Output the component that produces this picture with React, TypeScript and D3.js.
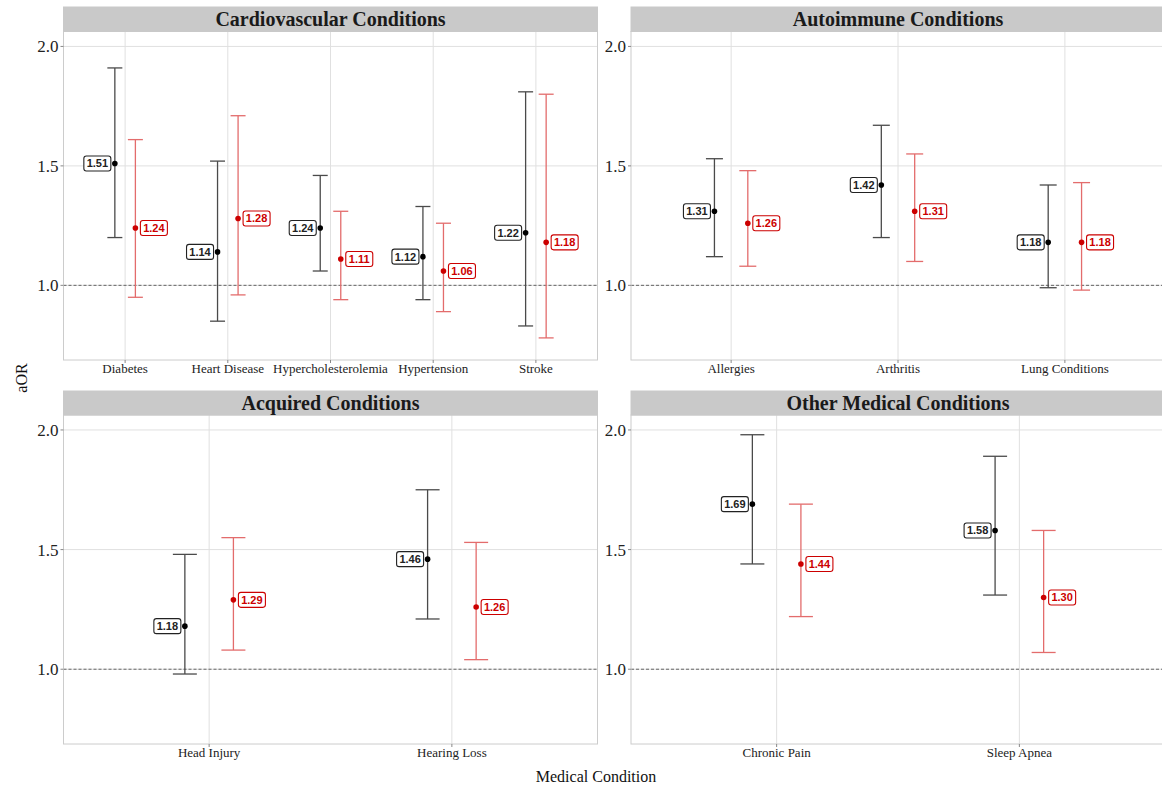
import React from "react";
import * as d3 from "d3";

const panelTitles = [
  "Cardiovascular Conditions",
  "Autoimmune Conditions",
  "Acquired Conditions",
  "Other Medical Conditions",
];

const panelCategories = [
  ["Diabetes", "Heart Disease", "Hypercholesterolemia", "Hypertension", "Stroke"],
  ["Allergies", "Arthritis", "Lung Conditions"],
  ["Head Injury", "Hearing Loss"],
  ["Chronic Pain", "Sleep Apnea"],
];

// black series (first model)
const blackEst = [[1.51, 1.14, 1.24, 1.12, 1.22], [1.31, 1.42, 1.18], [1.18, 1.46], [1.69, 1.58]];
const blackLow = [[1.2, 0.85, 1.06, 0.94, 0.83], [1.12, 1.2, 0.99], [0.98, 1.21], [1.44, 1.31]];
const blackHigh = [[1.91, 1.52, 1.46, 1.33, 1.81], [1.53, 1.67, 1.42], [1.48, 1.75], [1.98, 1.89]];

// red series (adjusted model)
const redEst = [[1.24, 1.28, 1.11, 1.06, 1.18], [1.26, 1.31, 1.18], [1.29, 1.26], [1.44, 1.3]];
const redLow = [[0.95, 0.96, 0.94, 0.89, 0.78], [1.08, 1.1, 0.98], [1.08, 1.04], [1.22, 1.07]];
const redHigh = [[1.61, 1.71, 1.31, 1.26, 1.8], [1.48, 1.55, 1.43], [1.55, 1.53], [1.69, 1.58]];

const yTicks = [1.0, 1.5, 2.0];
const yDomain = [0.6875, 2.0625];

const W = 1162;
const H = 792;
const serif = "'Liberation Serif', 'Times New Roman', serif";
const sans = "'Liberation Sans', Arial, sans-serif";

const panelBoxes = [
  { x0: 63.5, x1: 597.5, top: 7, stripH: 24.5, bottom: 360, cap: 15 },
  { x0: 631, x1: 1165, top: 7, stripH: 24.5, bottom: 360, cap: 17 },
  { x0: 63.5, x1: 597.5, top: 391, stripH: 24, bottom: 744, cap: 24 },
  { x0: 631, x1: 1165, top: 391, stripH: 24, bottom: 744, cap: 24 },
];

const dodgeFrac = 0.1;

function Label({ x, y, text, color, side }) {
  const w = 27;
  const h = 15;
  const bx = side === "left" ? x - 4 - w : x + 5;
  return (
    <g>
      <rect x={bx} y={y - h / 2} width={w} height={h} rx={2.5} fill="white" stroke={color} strokeWidth={1.1} />
      <text
        x={bx + w / 2}
        y={y + 4}
        textAnchor="middle"
        fontFamily={sans}
        fontWeight="bold"
        fontSize={11}
        fill={color}
      >
        {text}
      </text>
    </g>
  );
}

function Panel({ idx }) {
  const box = panelBoxes[idx];
  const cats = panelCategories[idx];
  const plotTop = box.top + box.stripH;
  const x = d3.scalePoint().domain(cats).range([box.x0, box.x1]).padding(0.6);
  const y = d3.scaleLinear().domain(yDomain).range([box.bottom, plotTop]);
  const step = x.step();
  const dodge = step * dodgeFrac;

  const series = [
    { est: blackEst[idx], lo: blackLow[idx], hi: blackHigh[idx], off: -dodge, bar: "#4a4a4a", pt: "#000", lab: "#222", side: "left" },
    { est: redEst[idx], lo: redLow[idx], hi: redHigh[idx], off: dodge, bar: "#e36c6c", pt: "#cc0000", lab: "#cc0000", side: "right" },
  ];

  return (
    <g>
      <rect x={box.x0} y={plotTop} width={box.x1 - box.x0} height={box.bottom - plotTop} fill="white" />
      {yTicks.map((t) => (
        <line key={t} x1={box.x0} x2={box.x1} y1={y(t)} y2={y(t)} stroke="#e0e0e0" strokeWidth={1} />
      ))}
      {cats.map((c) => (
        <line key={c} x1={x(c)} x2={x(c)} y1={plotTop} y2={box.bottom} stroke="#e0e0e0" strokeWidth={1} />
      ))}
      <line x1={box.x0} x2={box.x1} y1={y(1)} y2={y(1)} stroke="#444" strokeWidth={0.8} strokeDasharray="3,2" />
      {series.map((s, si) =>
        cats.map((c, i) => {
          const cx = x(c) + s.off;
          return (
            <g key={si + c}>
              <line x1={cx} x2={cx} y1={y(s.lo[i])} y2={y(s.hi[i])} stroke={s.bar} strokeWidth={1.3} />
              <line x1={cx - box.cap / 2} x2={cx + box.cap / 2} y1={y(s.lo[i])} y2={y(s.lo[i])} stroke={s.bar} strokeWidth={1.3} />
              <line x1={cx - box.cap / 2} x2={cx + box.cap / 2} y1={y(s.hi[i])} y2={y(s.hi[i])} stroke={s.bar} strokeWidth={1.3} />
              <circle cx={cx} cy={y(s.est[i])} r={2.8} fill={s.pt} />
              <Label x={cx} y={y(s.est[i])} text={s.est[i].toFixed(2)} color={s.lab} side={s.side} />
            </g>
          );
        })
      )}
      <rect x={box.x0} y={plotTop} width={box.x1 - box.x0} height={box.bottom - plotTop} fill="none" stroke="#cccccc" strokeWidth={1} />
      <rect x={box.x0} y={box.top} width={box.x1 - box.x0} height={box.stripH} fill="#c9c9c9" stroke="#c9c9c9" />
      <text
        x={(box.x0 + box.x1) / 2}
        y={box.top + box.stripH / 2 + 7}
        textAnchor="middle"
        fontFamily={serif}
        fontWeight="bold"
        fontSize={20}
        fill="#1a1a1a"
      >
        {panelTitles[idx]}
      </text>
      {yTicks.map((t) => (
        <g key={"yt" + t}>
          <line x1={box.x0 - 3} x2={box.x0} y1={y(t)} y2={y(t)} stroke="#888" strokeWidth={1} />
          <text x={box.x0 - 5} y={y(t) + 6} textAnchor="end" fontFamily={serif} fontSize={17} fill="#222">
            {t.toFixed(1)}
          </text>
        </g>
      ))}
      {cats.map((c) => (
        <g key={"xt" + c}>
          <line x1={x(c)} x2={x(c)} y1={box.bottom} y2={box.bottom + 3} stroke="#888" strokeWidth={1} />
          <text x={x(c)} y={box.bottom + 13} textAnchor="middle" fontFamily={serif} fontSize={13} fill="#222">
            {c}
          </text>
        </g>
      ))}
    </g>
  );
}

export default function App() {
  return (
    <svg width={W} height={H} style={{ position: "absolute", left: 0, top: 0, background: "white" }}>
      {panelTitles.map((t, i) => (
        <Panel key={t} idx={i} />
      ))}
      <text
        transform={`translate(27, 378) rotate(-90)`}
        textAnchor="middle"
        fontFamily={serif}
        fontSize={16}
        fill="#111"
      >
        aOR
      </text>
      <text x={596} y={782} textAnchor="middle" fontFamily={serif} fontSize={16} fill="#111">
        Medical Condition
      </text>
    </svg>
  );
}
